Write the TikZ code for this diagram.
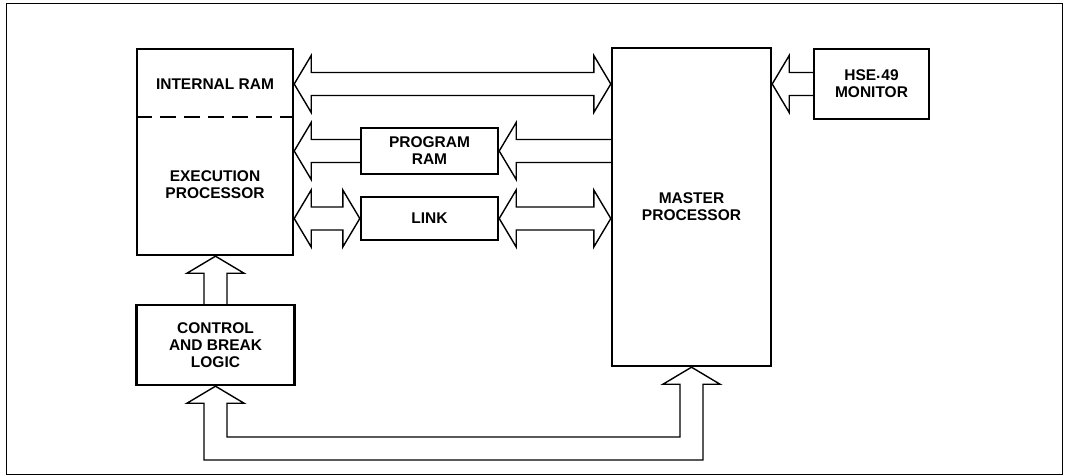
\documentclass[tikz,border=0pt]{standalone}
\usepackage{fontspec}
\setmainfont{Liberation Sans}
\usetikzlibrary{calc}

\newcommand{\headlen}{17pt}
\newcommand{\headhw}{28.5pt}
\newcommand{\shafthw}{11.5pt}

% two-headed hollow bus, tips at #1 (left) and #2 (right)
\newcommand{\busboth}[2]{%
  \draw[bus] let \p1=(#1), \p2=(#2) in
    (\x1,\y1) -- (\x1+\headlen,\y1+\headhw) -- (\x1+\headlen,\y1+\shafthw)
    -- (\x2-\headlen,\y1+\shafthw) -- (\x2-\headlen,\y1+\headhw) -- (\x2,\y1)
    -- (\x2-\headlen,\y1-\headhw) -- (\x2-\headlen,\y1-\shafthw)
    -- (\x1+\headlen,\y1-\shafthw) -- (\x1+\headlen,\y1-\headhw) -- cycle;}
% one-headed hollow bus pointing left, tip #1, tail #2
\newcommand{\busleft}[2]{%
  \draw[bus] let \p1=(#1), \p2=(#2) in
    (\x2,\y1+\shafthw) -- (\x1+\headlen,\y1+\shafthw) -- (\x1+\headlen,\y1+\headhw)
    -- (\x1,\y1) -- (\x1+\headlen,\y1-\headhw) -- (\x1+\headlen,\y1-\shafthw)
    -- (\x2,\y1-\shafthw);}
% one-headed hollow bus pointing up, tip #1, tail #2
\newcommand{\busup}[2]{%
  \draw[bus] let \p1=(#1), \p2=(#2) in
    (\x1-\shafthw,\y2) -- (\x1-\shafthw,\y1-\headlen) -- (\x1-\headhw,\y1-\headlen)
    -- (\x1,\y1) -- (\x1+\headhw,\y1-\headlen) -- (\x1+\shafthw,\y1-\headlen)
    -- (\x1+\shafthw,\y2);}

\begin{document}
\begin{tikzpicture}[
    x=1pt, y=1pt,
    font=\fontsize{15.5}{17}\selectfont\bfseries,
    box/.style={draw, line width=2.4pt, fill=white, align=center, inner sep=0pt},
    lbl/.style={align=center},
    bus/.style={line width=1.4pt, line join=miter},
]
\useasboundingbox (0,0) rectangle (1067,-476);
\draw[line width=1pt] (6,-4) rectangle (1062,-474);

% ---------------- blocks ----------------
\node[box, minimum width=156, minimum height=206] (ep) at (215,-152) {};
\node[lbl] (iram) at (215,-84) {INTERNAL RAM};
\node[lbl] (eplbl) at (215,-185) {EXECUTION\\PROCESSOR};
\draw[line width=1.6pt, dash pattern=on 16pt off 8pt]
  (ep.west |- 0,-117) -- (ep.east |- 0,-117);

\node[box, minimum width=137, minimum height=46] (prog) at (429.5,-151) {PROGRAM\\RAM};
\node[box, minimum width=137, minimum height=43] (link) at (429.5,-218.5) {LINK};
\node[box, minimum width=159, minimum height=318] (mp) at (691.5,-207) {MASTER\\PROCESSOR};
\node[box, minimum width=115, minimum height=70] (hse) at (871.5,-84) {HSE{\raisebox{-0.25ex}{\textperiodcentered}}49\\MONITOR};
\node[box, minimum width=158, minimum height=80] (ctl) at (215.5,-345) {CONTROL\\AND BREAK\\LOGIC};

\coordinate (rail) at (0,-448.5);

% ---------------- buses ----------------
\busboth{ep.east |- iram}{mp.west |- iram}
\busleft{ep.east |- prog.west}{prog.west}
\busleft{prog.east}{mp.west |- prog.east}
\busboth{ep.east |- link.west}{link.west}
\busboth{link.east}{mp.west |- link.east}
\busleft{mp.east |- hse.west}{hse.west}
\busup{ctl.north |- ep.south}{ctl.north}

% control <-> master, under the blocks
\draw[bus] let \p1=(ctl.south), \p2=(mp.south), \p3=(rail) in
  (\x1,\y1) -- (\x1+\headhw,\y1-\headlen) -- (\x1+\shafthw,\y1-\headlen)
  -- (\x1+\shafthw,\y3+\shafthw) -- (\x2-\shafthw,\y3+\shafthw)
  -- (\x2-\shafthw,\y2-\headlen) -- (\x2-\headhw,\y2-\headlen) -- (\x2,\y2)
  -- (\x2+\headhw,\y2-\headlen) -- (\x2+\shafthw,\y2-\headlen)
  -- (\x2+\shafthw,\y3-\shafthw) -- (\x1-\shafthw,\y3-\shafthw)
  -- (\x1-\shafthw,\y1-\headlen) -- (\x1-\headhw,\y1-\headlen) -- cycle;

\end{tikzpicture}
\end{document}
